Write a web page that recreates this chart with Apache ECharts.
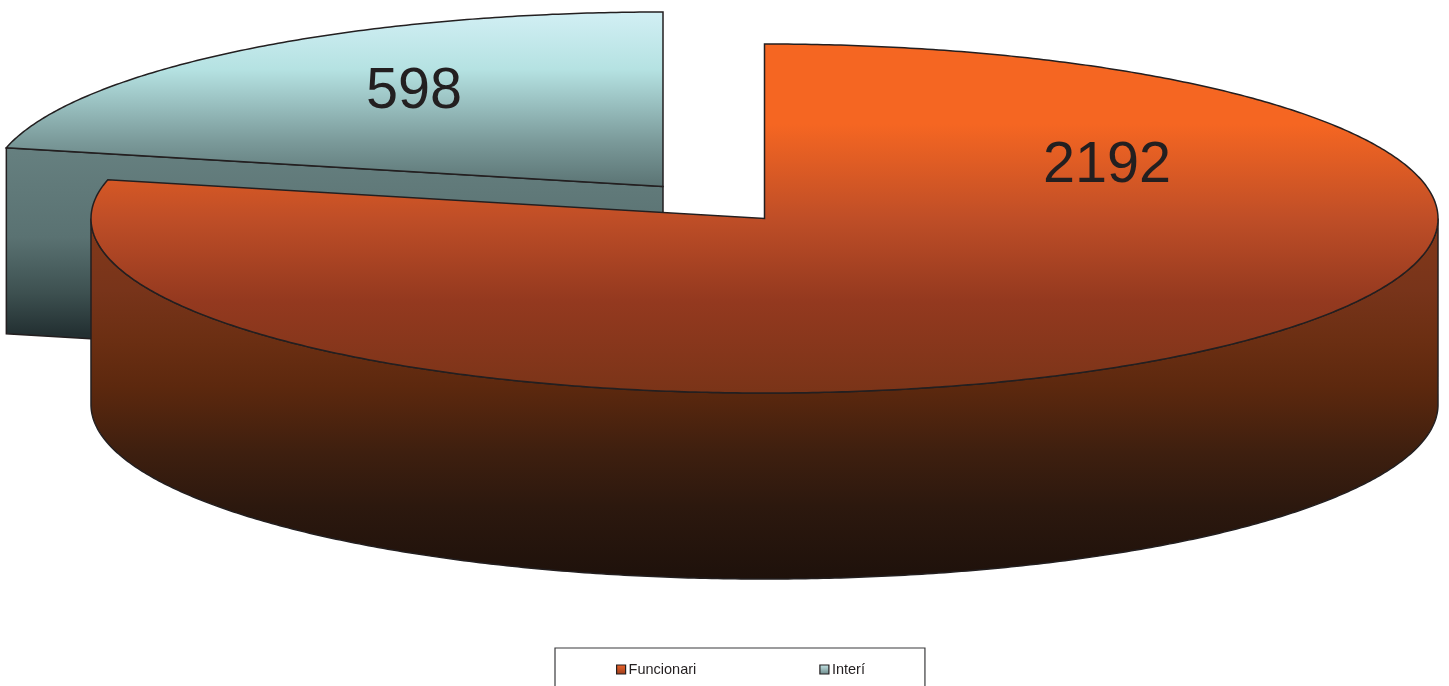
<!DOCTYPE html>
<html>
<head>
<meta charset="utf-8">
<style>html,body{margin:0;padding:0;background:#fff;overflow:hidden}#c{width:1449px;height:686px}</style>
<script src="https://cdn.jsdelivr.net/npm/echarts@6/dist/echarts.min.js"></script>
</head>
<body>
<div id="c"></div>
<script>
const categories = ['Funcionari', 'Interí'];
const seriesValues = [2192, 598];

// Layout of the 3D pie
const RX = 673.5, RY = 174.5, DEPTH = 186;
const centers = [[764.5, 218.5], [663, 186.5]];
const labelAt = [[1107, 166.5], [414, 92.5]];
const STROKE = '#231f20';

function grad(y0, y1, stops) {
  return {
    type: 'linear', x: 0, y: y0, x2: 0, y2: y1, global: true,
    colorStops: stops.map(s => ({ offset: s[0], color: s[1] }))
  };
}
function localGrad(a, b) {
  return { type: 'linear', x: 0, y: 0, x2: 0, y2: 1,
    colorStops: [{ offset: 0, color: a }, { offset: 1, color: b }] };
}
const fills = [
  {
    top: grad(44, 393, [[0, '#f56622'], [.23, '#f56622'], [.5, '#bf4e27'], [.736, '#94391f'], [1, '#7a3418']]),
    wall: grad(218, 579, [[0, '#84391a'], [.2, '#78341a'], [.35, '#6a2e12'], [.47, '#5c280e'], [.65, '#3e1f0f'], [.8, '#2c180e'], [1, '#1e110b']]),
    key: localGrad('#f0642a', '#9a3d1c')
  },
  {
    top: grad(12, 186, [[0, '#d2eff4'], [.33, '#b5e2e2'], [.55, '#96bcbc'], [.75, '#7a9999'], [1, '#5b7474']]),
    wall: grad(147, 372, [[0, '#668080'], [.4, '#5a7272'], [.65, '#3d5050'], [.83, '#233032'], [1, '#1e2a2c']]),
    key: localGrad('#c8e8ea', '#6a8888')
  }
];

const total = seriesValues.reduce((a, b) => a + b, 0);
function rim(c, deg, dy) {
  const t = deg * Math.PI / 180;
  return [c[0] + RX * Math.sin(t), c[1] - RY * Math.cos(t) + (dy || 0)];
}
function arc(c, a, b, dy) {
  const n = Math.max(2, Math.ceil(Math.abs(b - a) * 2));
  const pts = [];
  for (let k = 0; k <= n; k++) pts.push(rim(c, a + (b - a) * k / n, dy));
  return pts;
}
function poly(points, fill) {
  return {
    type: 'polygon', shape: { points: points },
    style: { fill: fill, stroke: STROKE, lineWidth: 1.5, lineJoin: 'miter' }
  };
}
function renderSlice(i) {
  return function (params, api) {
    const v = api.value(0);
    let start = 0;
    for (let k = 0; k < i; k++) start += seriesValues[k] / total * 360;
    const end = start + v / total * 360;
    const c = centers[i];
    const kids = [];
    // cut faces that look towards the viewer
    if (start > 180 && start < 360) {
      const e = rim(c, start);
      kids.push(poly([e, c, [c[0], c[1] + DEPTH], [e[0], e[1] + DEPTH]], fills[i].wall));
    }
    if (end > 0 && end < 180) {
      const e = rim(c, end);
      kids.push(poly([e, c, [c[0], c[1] + DEPTH], [e[0], e[1] + DEPTH]], fills[i].wall));
    }
    // outer wall on the front half of the rim
    const a = Math.max(start, 90), b = Math.min(end, 270);
    if (b > a) {
      kids.push(poly(arc(c, a, b).concat(arc(c, b, a, DEPTH)), fills[i].wall));
    }
    kids.push(poly([c].concat(arc(c, start, end)), fills[i].top));
    kids.push({
      type: 'text', z2: 10,
      style: {
        text: String(v), x: labelAt[i][0], y: labelAt[i][1],
        align: 'center', verticalAlign: 'middle',
        fill: STROKE, font: '57.6px "Liberation Sans", Arial, sans-serif'
      }
    });
    return { type: 'group', children: kids };
  };
}

const chart = echarts.init(document.getElementById('c'), null, { renderer: 'canvas' });
chart.setOption({
  animation: false,
  backgroundColor: '#ffffff',
  legend: {
    left: 555, top: 648,
    padding: [14, 60, 14, 61],
    itemWidth: 9, itemHeight: 9, itemGap: 123,
    icon: 'rect',
    borderColor: '#3a3a3c', borderWidth: 1.2,
    selectedMode: false,
    textStyle: { color: STROKE, fontSize: 14.5, fontFamily: '"Liberation Sans", Arial, sans-serif', lineHeight: 14, padding: [0, 0, 0, -2] },
    data: categories.map((n, i) => ({
      name: n,
      itemStyle: { color: fills[i].key, borderColor: STROKE, borderWidth: 1.2 }
    }))
  },
  series: categories.map((n, i) => ({
    type: 'custom',
    name: n,
    coordinateSystem: 'none',
    silent: true,
    z: i === 0 ? 3 : 2,
    renderItem: renderSlice(i),
    data: [[seriesValues[i]]]
  }))
});
</script>
</body>
</html>
